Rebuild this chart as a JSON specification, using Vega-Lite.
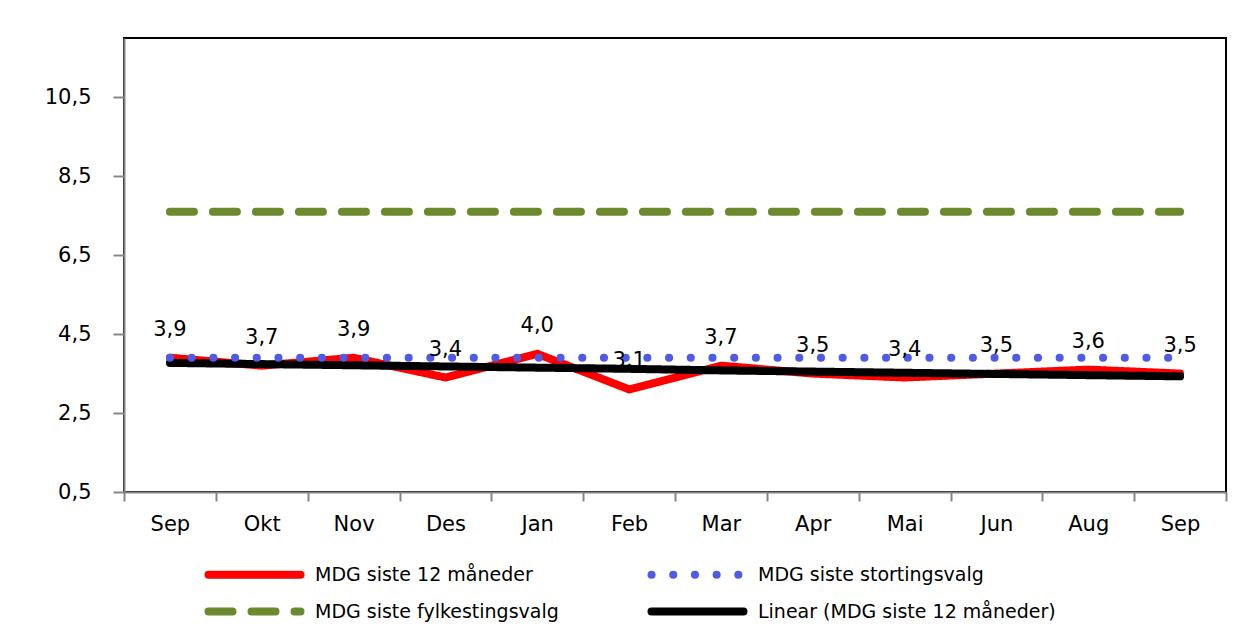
{
  "$schema": "https://vega.github.io/schema/vega-lite/v6.json",
  "autosize": {"type": "none"},
  "width": 1102,
  "height": 454,
  "padding": {"left": 124, "top": 38, "right": 27, "bottom": 141},
  "background": "white",
  "config": {
    "locale": {"number": {"decimal": ",", "thousands": " ", "grouping": [3], "currency": ["", ""]}},
    "view": {"stroke": "#000000", "strokeWidth": 2},
    "font": "DejaVu Sans",
    "axis": {
      "domainColor": "#868686", "domainWidth": 2,
      "tickColor": "#868686", "tickWidth": 2, "tickSize": 9,
      "labelColor": "#000000", "labelFont": "DejaVu Sans", "labelFontSize": 21,
      "grid": false, "title": null
    }
  },
  "data": {
    "values": [
      {"month": "Sep1", "mdg12": 3.9, "storting": 3.9, "fylke": 7.6, "trend": 3.77},
      {"month": "Okt", "mdg12": 3.7, "storting": 3.9, "fylke": 7.6, "trend": 3.74},
      {"month": "Nov", "mdg12": 3.9, "storting": 3.9, "fylke": 7.6, "trend": 3.71},
      {"month": "Des", "mdg12": 3.4, "storting": 3.9, "fylke": 7.6, "trend": 3.68},
      {"month": "Jan", "mdg12": 4.0, "storting": 3.9, "fylke": 7.6, "trend": 3.65},
      {"month": "Feb", "mdg12": 3.1, "storting": 3.9, "fylke": 7.6, "trend": 3.62},
      {"month": "Mar", "mdg12": 3.7, "storting": 3.9, "fylke": 7.6, "trend": 3.58},
      {"month": "Apr", "mdg12": 3.5, "storting": 3.9, "fylke": 7.6, "trend": 3.55},
      {"month": "Mai", "mdg12": 3.4, "storting": 3.9, "fylke": 7.6, "trend": 3.52},
      {"month": "Jun", "mdg12": 3.5, "storting": 3.9, "fylke": 7.6, "trend": 3.49},
      {"month": "Aug", "mdg12": 3.6, "storting": 3.9, "fylke": 7.6, "trend": 3.46},
      {"month": "Sep2", "mdg12": 3.5, "storting": 3.9, "fylke": 7.6, "trend": 3.43}
    ]
  },
  "transform": [
    {"fold": ["mdg12", "storting", "fylke", "trend"], "as": ["key", "value"]},
    {"lookup": "key", "from": {"data": {"values": [
      {"key": "mdg12", "series": "MDG siste 12 måneder"},
      {"key": "storting", "series": "MDG siste stortingsvalg"},
      {"key": "fylke", "series": "MDG siste fylkestingsvalg"},
      {"key": "trend", "series": "Linear (MDG siste 12 måneder)"}
    ]}, "key": "key", "fields": ["series"]}}
  ],
  "encoding": {
    "x": {
      "field": "month", "type": "ordinal", "sort": null,
      "scale": {"type": "band", "paddingInner": 0, "paddingOuter": 0},
      "bandPosition": 0.5,
      "axis": {"tickBand": "extent", "labelAngle": 0, "labelPadding": 12, "labelExpr": "slice(datum.label, 0, 3)"}
    },
    "y": {
      "field": "value", "type": "quantitative",
      "scale": {"domain": [0.5, 12], "nice": false, "zero": false},
      "axis": {"values": [0.5, 2.5, 4.5, 6.5, 8.5, 10.5], "format": ".1f", "labelPadding": 22, "tickSize": 11}
    }
  },
  "layer": [
    {
      "transform": [{"filter": "datum.key == 'mdg12'"}],
      "mark": {"type": "line", "strokeCap": "round", "strokeJoin": "miter"},
      "encoding": {
        "color": {"field": "series", "type": "nominal",
          "scale": {"domain": ["MDG siste 12 måneder", "MDG siste stortingsvalg", "MDG siste fylkestingsvalg", "Linear (MDG siste 12 måneder)"],
                    "range": ["#ff0000", "#4f5be6", "#6b8a2e", "#000000"]},
          "legend": {
            "title": null, "orient": "none", "legendX": 115, "legendY": 521,
            "columns": 2, "direction": "horizontal",
            "symbolType": "M-4,0H4", "symbolSize": 529,
            "labelFont": "DejaVu Sans", "labelFontSize": 19, "labelColor": "#000000",
            "labelOffset": 45, "columnPadding": 76, "rowPadding": 4, "labelLimit": 400,
            "encode": {"symbols": {"update": {"strokeCap": {"value": "round"}}}}
          }},
        "strokeDash": {"field": "series", "type": "nominal",
          "scale": {"domain": ["MDG siste 12 måneder", "MDG siste stortingsvalg", "MDG siste fylkestingsvalg", "Linear (MDG siste 12 måneder)"],
                    "range": [[1, 0], [0.1, 21.6], [24, 19], [1, 0]]}},
        "strokeWidth": {"field": "series", "type": "nominal",
          "scale": {"domain": ["MDG siste 12 måneder", "MDG siste stortingsvalg", "MDG siste fylkestingsvalg", "Linear (MDG siste 12 måneder)"],
                    "range": [8, 8, 7, 3]}}
      }
    },
    {
      "transform": [{"filter": "datum.key == 'trend'"}],
      "mark": {"type": "line", "strokeCap": "round"},
      "encoding": {
        "color": {"field": "series", "type": "nominal"},
        "strokeDash": {"field": "series", "type": "nominal"},
        "strokeWidth": {"field": "series", "type": "nominal"}
      }
    },
    {
      "transform": [{"filter": "datum.key == 'storting'"}],
      "mark": {"type": "line", "strokeCap": "round"},
      "encoding": {
        "color": {"field": "series", "type": "nominal"},
        "strokeDash": {"field": "series", "type": "nominal"},
        "strokeWidth": {"field": "series", "type": "nominal"}
      }
    },
    {
      "transform": [{"filter": "datum.key == 'fylke'"}],
      "mark": {"type": "line", "strokeCap": "round"},
      "encoding": {
        "color": {"field": "series", "type": "nominal"},
        "strokeDash": {"field": "series", "type": "nominal"},
        "strokeWidth": {"field": "series", "type": "nominal"}
      }
    },
    {
      "transform": [{"filter": "datum.key == 'mdg12'"}],
      "mark": {"type": "text", "dy": -28, "font": "DejaVu Sans", "fontSize": 21, "color": "#000000"},
      "encoding": {
        "text": {"field": "value", "type": "quantitative", "format": ".1f"}
      }
    }
  ]
}
